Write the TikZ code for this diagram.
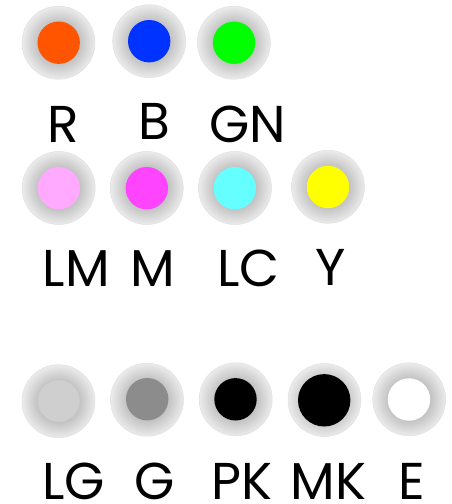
\documentclass[tikz,border=0pt]{standalone}
\usepackage{fontspec}
\setmainfont{Poppins}
\definecolor{ringin}{HTML}{C2C2C2}
\definecolor{ringout}{HTML}{EBEBEB}
\definecolor{ringedge}{HTML}{E0E0E0}
\definecolor{cR}{HTML}{FF5500}
\definecolor{cB}{HTML}{0033FF}
\definecolor{cGN}{HTML}{00FF00}
\definecolor{cLM}{HTML}{FFAAFF}
\definecolor{cM}{HTML}{FF44FF}
\definecolor{cLC}{HTML}{66FFFF}
\definecolor{cY}{HTML}{FFFF00}
\definecolor{cLG}{HTML}{CFCFCF}
\definecolor{cG}{HTML}{8C8C8C}
\pgfdeclareradialshading{ringshade}{\pgfpoint{0bp}{0bp}}{color(0bp)=(ringin); color(14.2bp)=(ringin); color(25bp)=(ringout); color(50bp)=(ringout)}
\tikzset{
  ring/.style={circle, inner sep=0pt, minimum size=73bp, shading=ringshade, draw=ringedge, line width=0.5bp},
  dot/.style={circle, inner sep=0pt, minimum size=42.4bp},
  bigdot/.style={circle, inner sep=0pt, minimum size=52.4bp},
  lab/.style={anchor=base, inner sep=0pt, font=\fontsize{52}{52}\selectfont}
}
\begin{document}
\begin{tikzpicture}[x=1bp,y=-1bp]
\useasboundingbox[fill=white] (0,0) rectangle (452,504);
% row 1
\node[ring] (rR) at (58.5,42.7) {};
\node[dot, fill=cR] (dR) at (58.7,42.7) {};
\node[ring] (rB) at (149.2,41.2) {};
\node[dot, fill=cB] (dB) at (149.2,41.2) {};
\node[ring] (rGN) at (233.9,42.7) {};
\node[dot, fill=cGN] (dGN) at (234.1,42.7) {};
\node[lab] (tR) at (62.8,142.7) {R};
\node[lab] (tB) at (154.5,140) {B};
\node[lab] (tGN) at (247.8,142.7) {GN};
% row 2
\node[ring] (rLM) at (58.7,188) {};
\node[dot, fill=cLM] (dLM) at (58.8,188.2) {};
\node[ring] (rM) at (146.8,188) {};
\node[dot, fill=cM] (dM) at (146.8,188.2) {};
\node[ring] (rLC) at (235,188) {};
\node[dot, fill=cLC] (dLC) at (234.8,188.2) {};
\node[ring] (rY) at (328,186.8) {};
\node[dot, fill=cY] (dY) at (328,187) {};
\node[lab] (tLM) at (76.3,286.7) {LM};
\node[lab] (tM) at (153,286.7) {M};
\node[lab] (tLC) at (248.2,286.7) {LC};
\node[lab] (tY) at (330.7,285.7) {Y};
% row 3
\node[ring] (rLG) at (58.5,401.2) {};
\node[dot, fill=cLG, draw=ringin, line width=0.3bp] (dLG) at (58.7,401) {};
\node[ring] (rG) at (147,399.7) {};
\node[dot, fill=cG] (dG) at (147.2,399.2) {};
\node[ring] (rPK) at (235.7,399.3) {};
\node[dot, fill=black] (dPK) at (235.5,399.3) {};
\node[ring] (rMK) at (324.5,400) {};
\node[bigdot, fill=black] (dMK) at (324.2,400.3) {};
\node[ring] (rE) at (409.2,399.3) {};
\node[dot, fill=white] (dE) at (409,399.5) {};
\node[lab] (tLG) at (73.7,499.3) {LG};
\node[lab] (tG) at (154.5,499.3) {G};
\node[lab] (tPK) at (242.5,499.3) {PK};
\node[lab] (tMK) at (328.5,499.3) {MK};
\node[lab] (tE) at (411.3,499.3) {E};
\end{tikzpicture}
\end{document}
